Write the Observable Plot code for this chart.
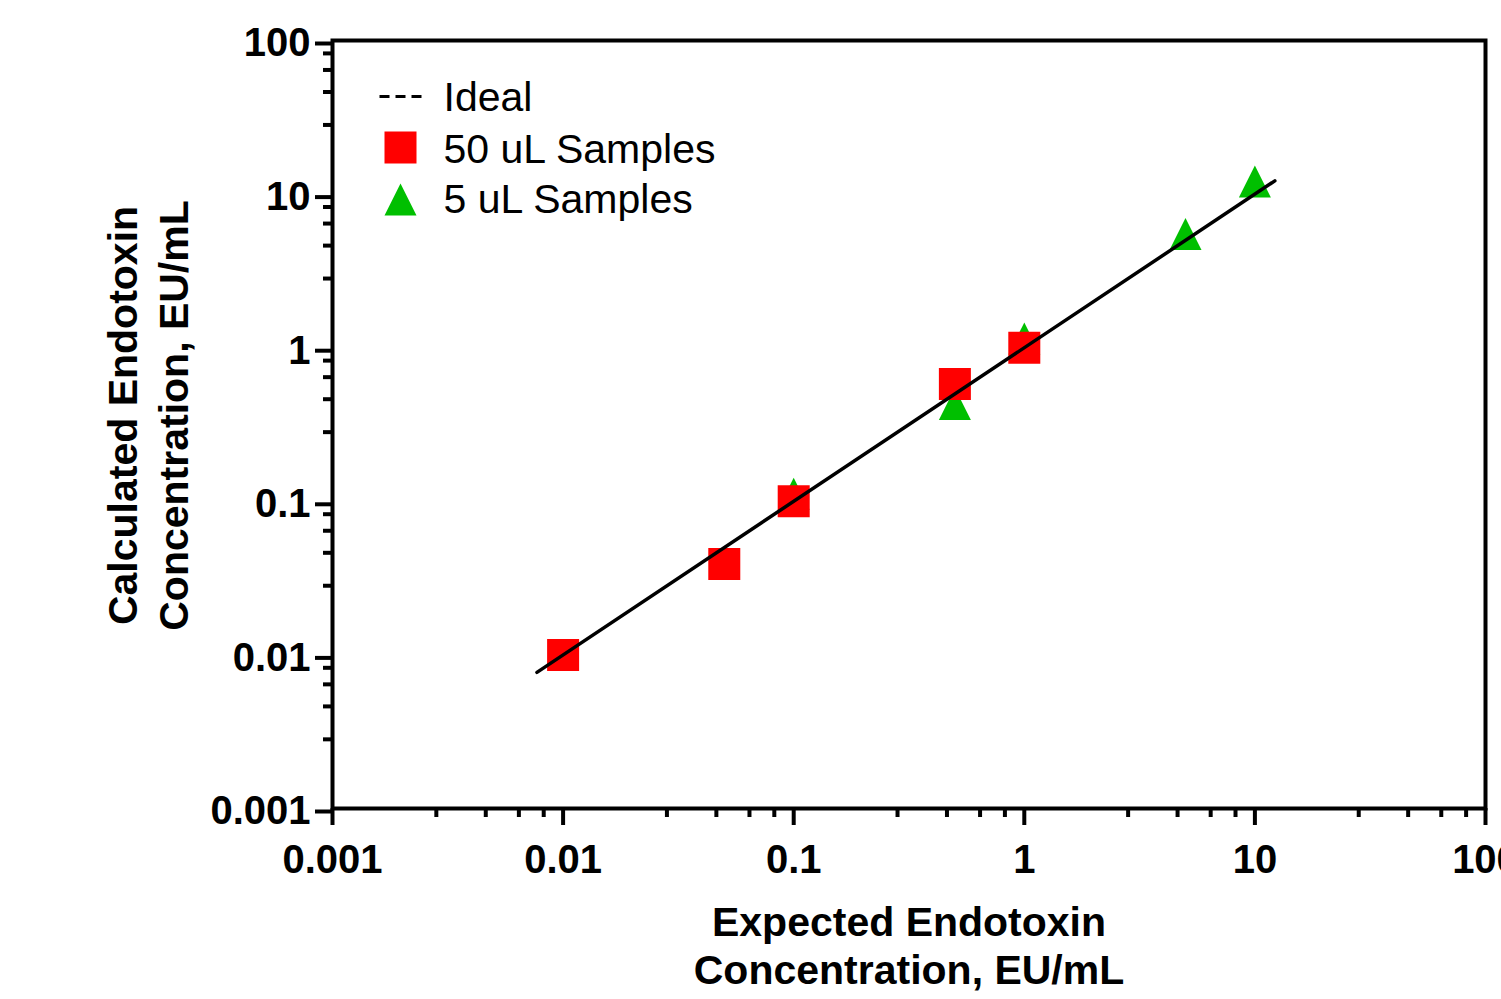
<!DOCTYPE html>
<html>
<head>
<meta charset="utf-8">
<script src="https://cdn.jsdelivr.net/npm/d3@7"></script>
<script src="https://cdn.jsdelivr.net/npm/@observablehq/plot@0.6"></script>
<style>
  html, body { margin: 0; padding: 0; background: #fff; overflow: hidden; }
  #chart { width: 1501px; height: 999px; overflow: hidden; }
</style>
</head>
<body>
<div id="chart"></div>
<script>
// ---- data ----
const expected50 = [0.01, 0.05, 0.1, 0.5, 1];
const calculated50 = [0.0100, 0.039, 0.100, 0.58, 1.00];
const expected5 = [0.1, 0.5, 1, 5, 10];
const calculated5 = [0.112, 0.43, 1.15, 5.5, 12.1];
const idealRange = [0.0077, 12.2];
const majorTicks = [0.001, 0.01, 0.1, 1, 10, 100];
const minorMultipliers = [2.82, 4.62, 6.43, 8.24];
const legendLabels = ["Ideal", "50 uL Samples", "5 uL Samples"];
const xTitle = "Expected Endotoxin\nConcentration, EU/mL";
const yTitle = "Calculated Endotoxin\nConcentration, EU/mL";

const minorTicks = [];
for (const m of majorTicks.slice(0, -1)) for (const k of minorMultipliers) minorTicks.push(m * k);

const samples50 = expected50.map((x, i) => ({x, y: calculated50[i]}));
const samples5 = expected5.map((x, i) => ({x, y: calculated5[i]}));
const ideal = idealRange.map(v => ({x: v, y: v}));

const RED = "#ff0000", GREEN = "#00bf00";
const squareSym = {draw(ctx) { const s = 16; ctx.moveTo(-s, -s); ctx.lineTo(s, -s); ctx.lineTo(s, s); ctx.lineTo(-s, s); ctx.closePath(); }};
const triangleSym = {draw(ctx) { ctx.moveTo(0, -16); ctx.lineTo(16, 16); ctx.lineTo(-16, 16); ctx.closePath(); }};
const lineSym = {draw(ctx) { ctx.moveTo(-21, 0); ctx.lineTo(21, 0); }};

const FONT = "Liberation Sans, Arial, Helvetica, sans-serif";

const chart = Plot.plot({
  width: 1501,
  height: 999,
  marginLeft: 332,
  marginRight: 16,
  marginTop: 40,
  marginBottom: 191,
  style: {fontFamily: FONT, background: "#fff", color: "#000", overflow: "visible"},
  x: {type: "log", domain: [0.001, 100], axis: null},
  y: {type: "log", domain: [0.001, 100], axis: null},
  marks: [
    // minor ticks
    Plot.axisX({ticks: minorTicks, tickSize: 9, strokeWidth: 4, fill: "none", label: null}),
    Plot.axisY({ticks: minorTicks, tickSize: 9, strokeWidth: 4, fill: "none", label: null}),
    // major ticks + labels
    Plot.axisX({ticks: majorTicks, tickSize: 17, tickPadding: 19, strokeWidth: 4,
      tickFormat: d => String(d), fontSize: 40, fontWeight: "bold", label: null}),
    Plot.axisY({ticks: majorTicks, tickSize: 17, tickPadding: 5, strokeWidth: 4, dy: 3,
      tickFormat: d => String(d), fontSize: 40, fontWeight: "bold", label: null}),
    Plot.frame({stroke: "black", strokeWidth: 4}),
    // data
    Plot.dot(samples5, {x: "x", y: "y", symbol: triangleSym, fill: GREEN, stroke: "none"}),
    Plot.dot(samples50, {x: "x", y: "y", symbol: squareSym, fill: RED, stroke: "none"}),
    Plot.line(ideal, {x: "x", y: "y", stroke: "black", strokeWidth: 3.5}),
    // axis titles
    Plot.text([xTitle], {text: d => d, frameAnchor: "bottom", textAnchor: "middle", lineAnchor: "top", dy: 94,
      fontSize: 41, fontWeight: "bold", lineHeight: 1.16, fill: "black"}),
    Plot.text([yTitle], {text: d => d, frameAnchor: "left", rotate: -90, textAnchor: "middle", lineAnchor: "middle",
      dx: -186.5, dy: -9, fontSize: 41, fontWeight: "bold", lineHeight: 1.25, fill: "black"}),
    // legend
    Plot.dot([legendLabels[0]], {frameAnchor: "top-left", dx: 68, dy: 56, symbol: lineSym,
      fill: "none", stroke: "black", strokeWidth: 3, strokeDasharray: "10,6"}),
    Plot.dot([legendLabels[1]], {frameAnchor: "top-left", dx: 68, dy: 107, symbol: squareSym, fill: RED, stroke: "none"}),
    Plot.dot([legendLabels[2]], {frameAnchor: "top-left", dx: 68, dy: 159, symbol: triangleSym, fill: GREEN, stroke: "none"}),
    Plot.text([legendLabels[0]], {text: d => d, frameAnchor: "top-left", dx: 111, dy: 57, textAnchor: "start",
      lineAnchor: "middle", fontSize: 41, fill: "black"}),
    Plot.text([legendLabels[1]], {text: d => d, frameAnchor: "top-left", dx: 111, dy: 109, textAnchor: "start",
      lineAnchor: "middle", fontSize: 41, fill: "black"}),
    Plot.text([legendLabels[2]], {text: d => d, frameAnchor: "top-left", dx: 111, dy: 159, textAnchor: "start",
      lineAnchor: "middle", fontSize: 41, fill: "black"})
  ]
});
document.getElementById("chart").appendChild(chart);
</script>
</body>
</html>
